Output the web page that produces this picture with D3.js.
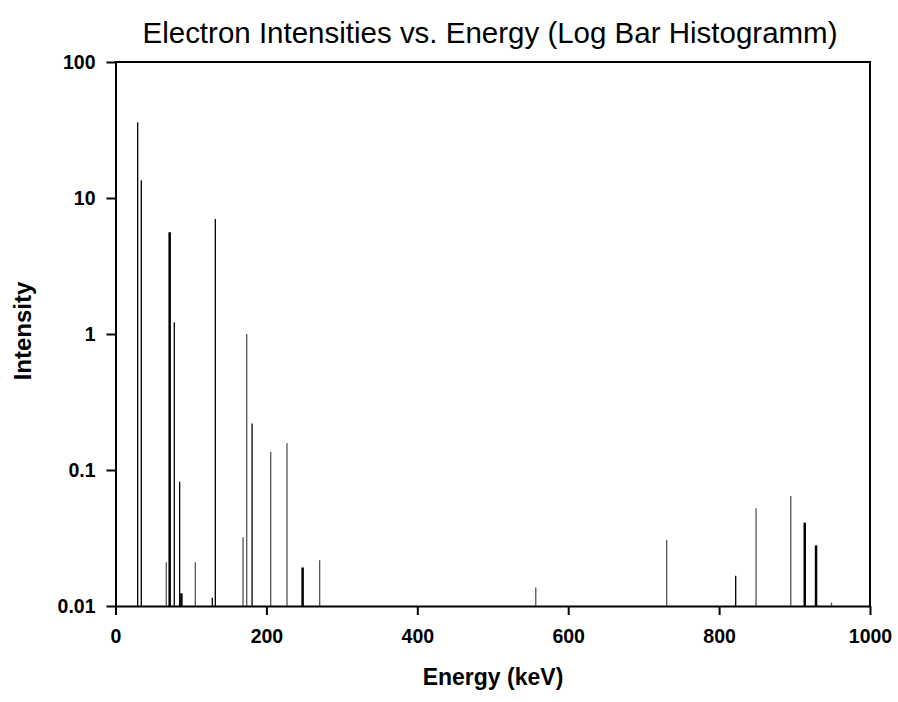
<!DOCTYPE html>
<html>
<head>
<meta charset="utf-8">
<script src="https://cdn.jsdelivr.net/npm/d3@7"></script>
<style>
  html, body { margin: 0; padding: 0; background: #fff; }
  svg { display: block; }
  text { font-family: "Liberation Sans", Arial, sans-serif; fill: #000; }
</style>
</head>
<body>
<svg id="chart" width="898" height="702"></svg>
<script>
// ---- data ----
const energies = [29.4, 34.2, 67.3, 71.8, 77.9, 85.0, 87.3, 105.8, 128.3, 132.3, 169.0, 173.9, 181.0, 205.7, 227.3, 248.0, 270.6, 557.0, 730.5, 822.0, 849.0, 895.0, 913.5, 928.5, 949.0];
const intensities = [36, 13.5, 0.021, 5.6, 1.22, 0.082, 0.0124, 0.021, 0.0115, 7.0, 0.032, 1.0, 0.22, 0.136, 0.157, 0.0192, 0.0217, 0.0137, 0.0306, 0.0167, 0.0523, 0.0644, 0.041, 0.0279, 0.0106];
const xTicks = [0, 200, 400, 600, 800, 1000];
const xTickLabels = ["0", "200", "400", "600", "800", "1000"];
const yTicks = [100, 10, 1, 0.1, 0.01];
const yTickLabels = ["100", "10", "1", "0.1", "0.01"];
// style groups (by energy)
const thickLines = [71.8, 87.3, 248.0, 913.5, 928.5];
const grayLines = [67.3, 105.8, 169.0, 173.9, 205.7, 227.3, 270.6, 557.0, 730.5, 849.0, 895.0, 949.0];

const svg = d3.select("#chart");
const margin = { left: 115.5, right: 898 - 870, top: 62, bottom: 702 - 606 };
const W = 898, H = 702;

const x = d3.scaleLinear().domain([0, 1000]).range([margin.left, W - margin.right]);
const y = d3.scaleLog().domain([0.01, 100]).range([H - margin.bottom, margin.top]);

// title
svg.append("text")
  .attr("x", 490).attr("y", 43)
  .attr("text-anchor", "middle")
  .attr("font-size", 29)
  .attr("textLength", 695).attr("lengthAdjust", "spacingAndGlyphs")
  .text("Electron Intensities vs. Energy (Log Bar Histogramm)");

// bars
const bars = energies.map((e, i) => ({ e, v: intensities[i] }));
svg.append("g").selectAll("line").data(bars).enter().append("line")
  .attr("x1", d => x(d.e)).attr("x2", d => x(d.e))
  .attr("y1", y(0.01)).attr("y2", d => y(d.v))
  .attr("stroke", d => grayLines.includes(d.e) ? "#555" : "#000")
  .attr("stroke-width", d => thickLines.includes(d.e) ? 2.5 : 1.3);

// axes
const xAxis = d3.axisBottom(x).tickValues(xTicks).tickFormat((d, i) => xTickLabels[i])
  .tickSize(9).tickSizeOuter(0).tickPadding(14);
const gx = svg.append("g").attr("transform", `translate(0,${y(0.01)})`).call(xAxis);
gx.select(".domain").attr("stroke-width", 2);
gx.selectAll(".tick line").attr("stroke-width", 2);
gx.selectAll("text").attr("font-size", 19.5).attr("font-weight", "bold")
  .attr("font-family", "Liberation Sans, Arial, sans-serif");

const yAxis = d3.axisLeft(y).tickValues(yTicks).tickFormat((d, i) => yTickLabels[i])
  .tickSize(9).tickSizeOuter(0).tickPadding(11);
const gy = svg.append("g").attr("transform", `translate(${x(0)},0)`).call(yAxis);
gy.select(".domain").attr("stroke-width", 2);
gy.selectAll(".tick line").attr("stroke-width", 2);
gy.selectAll("text").attr("font-size", 19.5).attr("font-weight", "bold")
  .attr("font-family", "Liberation Sans, Arial, sans-serif");

// frame top and right
svg.append("line").attr("x1", x(0) - 1).attr("x2", x(1000) + 1).attr("y1", y(100)).attr("y2", y(100))
  .attr("stroke", "#000").attr("stroke-width", 2);
svg.append("line").attr("x1", x(1000)).attr("x2", x(1000)).attr("y1", y(100)).attr("y2", y(0.01))
  .attr("stroke", "#000").attr("stroke-width", 2);

// axis labels
svg.append("text")
  .attr("x", 493).attr("y", 685)
  .attr("text-anchor", "middle")
  .attr("font-size", 23).attr("font-weight", "bold")
  .text("Energy (keV)");
svg.append("text")
  .attr("transform", "translate(31,331) rotate(-90)")
  .attr("text-anchor", "middle")
  .attr("font-size", 24).attr("font-weight", "bold")
  .text("Intensity");
</script>
</body>
</html>
